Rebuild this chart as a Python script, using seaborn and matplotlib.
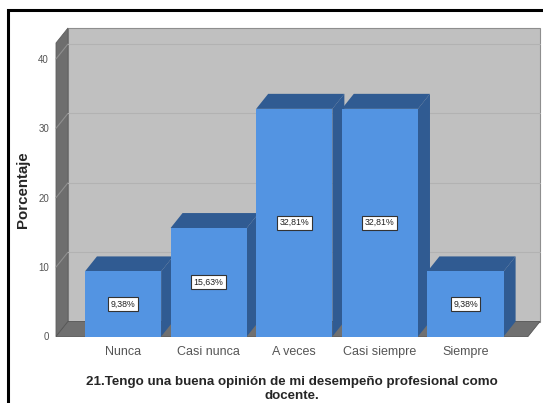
import matplotlib
matplotlib.use("Agg")
import matplotlib.pyplot as plt
import seaborn as sns
from matplotlib.patches import Polygon, Rectangle
from matplotlib.transforms import IdentityTransform

# Data
categories = ["Nunca", "Casi nunca", "A veces", "Casi siempre", "Siempre"]
percentages = [9.38, 15.63, 32.81, 32.81, 9.38]
bar_labels = ["9,38%", "15,63%", "32,81%", "32,81%", "9,38%"]
y_ticks = [0, 10, 20, 30, 40]
title = "21.Tengo una buena opinión de mi desempeño profesional como\ndocente."

# Colors (SPSS-like 3D look)
front_blue = "#5394E2"
dark_blue = "#305B92"
back_wall = "#C0C0C0"
side_wall = "#6E6E6E"
floor_col = "#707070"

sns.set_style("white")
plt.rcParams["font.family"] = ["Liberation Sans", "DejaVu Sans"]

fig = plt.figure(figsize=(5.43, 4.03), dpi=100)
ax = fig.add_axes([56 / 543, 66.5 / 403, 472 / 543, 293.5 / 403])

# front faces of the bars
sns.barplot(x=categories, y=percentages, color=front_blue, saturation=1,
            width=0.89, linewidth=0, ax=ax, zorder=3)

# seaborn resets the limits, so set them afterwards
xlim = (-0.783, 4.73)
ylim = (0, 42.3)
ax.set_xlim(*xlim)
ax.set_ylim(*ylim)
for s in ax.spines.values():
    s.set_visible(False)
ax.patch.set_visible(False)

# depth offset of the 3D look, in pixels
DX, DY = 12, 15


def to_disp(x, y, d=0):
    px, py = ax.transData.transform((x, y))
    return (px + d * DX, py + d * DY)


def face(pts, color, z, ec="none", lw=0):
    poly = Polygon(pts, closed=True, facecolor=color, edgecolor=ec, lw=lw,
                   transform=IdentityTransform(), clip_on=False, zorder=z)
    ax.add_patch(poly)


bars = [p for p in ax.patches if isinstance(p, Rectangle)]
x0, x1 = xlim
ytop = ylim[1]

# walls and floor
face([to_disp(x0, 0, 1), to_disp(x1, 0, 1), to_disp(x1, ytop, 1), to_disp(x0, ytop, 1)],
     back_wall, 0.5, ec="#8E8E8E", lw=0.8)
face([to_disp(x0, 0, 0), to_disp(x0, 0, 1), to_disp(x0, ytop, 1), to_disp(x0, ytop, 0)],
     side_wall, 0.6, ec="#5E5E5E", lw=0.6)

# gridlines on the walls
for t in y_ticks[1:]:
    a, b, c = to_disp(x0, t, 0), to_disp(x0, t, 1), to_disp(x1, t, 1)
    ax.plot([a[0], b[0]], [a[1], b[1]], color="#909090", lw=0.8,
            transform=IdentityTransform(), clip_on=False, zorder=0.7)
    ax.plot([b[0], c[0]], [b[1], c[1]], color="#B2B2B2", lw=0.8,
            transform=IdentityTransform(), clip_on=False, zorder=0.7)

face([to_disp(x0, 0, 0), to_disp(x1, 0, 0), to_disp(x1, 0, 1), to_disp(x0, 0, 1)],
     floor_col, 0.8, ec="#555555", lw=0.6)

# top and side faces from the bar geometry
for p in bars:
    bx0, bx1 = p.get_x(), p.get_x() + p.get_width()
    h = p.get_height()
    face([to_disp(bx1, 0, 0), to_disp(bx1, 0, 1), to_disp(bx1, h, 1), to_disp(bx1, h, 0)],
         dark_blue, 2)
    face([to_disp(bx0, h, 0), to_disp(bx1, h, 0), to_disp(bx1, h, 1), to_disp(bx0, h, 1)],
         dark_blue, 2.1)

# value labels
for i, (v, lab) in enumerate(zip(percentages, bar_labels)):
    ax.text(i, v / 2, lab, ha="center", va="center", fontsize=6.3, color="#222222",
            zorder=5, bbox=dict(boxstyle="square,pad=0.3", fc="white", ec="#333333", lw=0.8))

ax.set_yticks(y_ticks)
ax.tick_params(axis="y", length=0, pad=5, labelsize=7, labelcolor="#555555")
ax.tick_params(axis="x", length=0, pad=7, labelsize=9, labelcolor="#555555")
ax.set_ylabel("Porcentaje", fontsize=10.8, fontweight="bold", labelpad=6)
ax.set_xlabel(title, fontsize=9.6, fontweight="bold", labelpad=13, linespacing=1.15)

# outer frame
fig.add_artist(Rectangle((8 / 543, -0.2), 1.2, 1.2 - 10 / 403, transform=fig.transFigure,
                         fill=False, ec="black", lw=2.2))

fig.savefig("out.png", dpi=100)
